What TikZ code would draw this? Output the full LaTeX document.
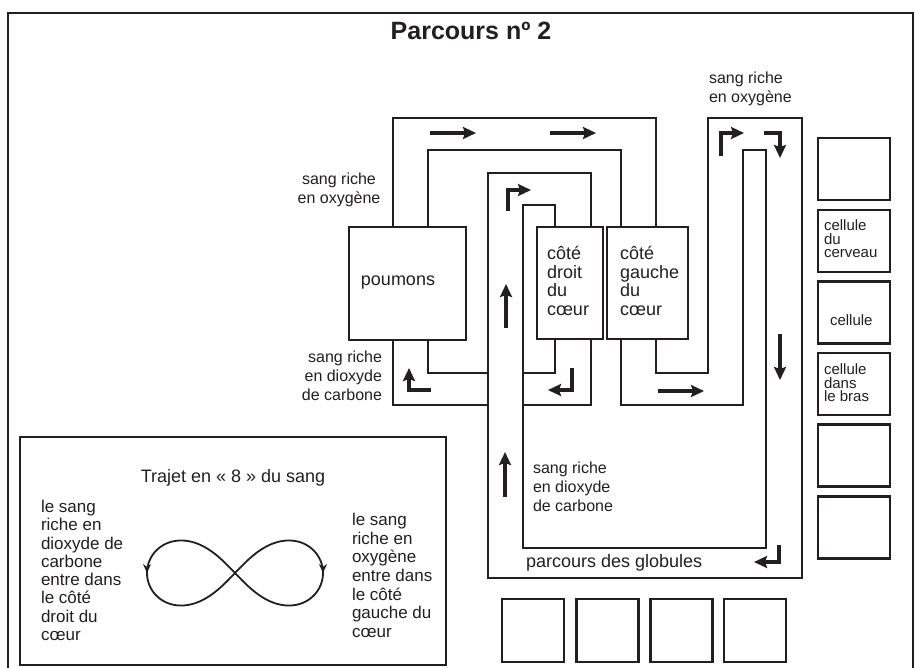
\documentclass[tikz,border=0pt]{standalone}
\usepackage{fontspec}
\setmainfont{Liberation Sans}
\usetikzlibrary{arrows.meta,decorations.markings}
\definecolor{ink}{HTML}{231F20}
\newcommand\myfs[2]{\fontsize{#1}{#2}\selectfont\lineskiplimit=-50pt\relax}
\begin{document}
\begin{tikzpicture}[x=1pt,y=-1pt,
  every node/.style={inner sep=0pt,outer sep=0pt,text=ink},
  lbl/.style={font=\myfs{16}{18.8}},
  heart/.style={font=\myfs{18}{18.5},align=left,anchor=west},
  celltxt/.style={font=\myfs{15}{13.5},align=left,anchor=west},
  route/.style={draw=ink,line width=1.3pt},
  bigbox/.style={draw=ink,line width=2pt,rectangle},
  cellbox/.style={draw=ink,line width=2.4pt,rectangle,minimum width=72pt,minimum height=62pt},
  sqbox/.style={draw=ink,line width=2.4pt,rectangle,minimum width=62pt,minimum height=63pt},
  flow/.style={draw=ink,line width=3.2pt,-{Stealth[length=13pt,width=12pt,inset=2pt]}},
]
\useasboundingbox (0,0) rectangle (915,667);
\fill[white] (0,0) rectangle (915,667);

% outer frame
\draw[ink,line width=2.2pt] (8,672) -- (8,13) -- (913,13) -- (913,672);

% title
\node[font=\bfseries\myfs{25}{28}] (title) at (471,31) {Parcours nº 2};

% main boxes
\node[bigbox,minimum width=117pt,minimum height=113pt] (poumons) at (407.5,283.5) {};
\node[bigbox,minimum width=66pt,minimum height=112pt] (droit) at (570,283) {};
\node[bigbox,minimum width=81pt,minimum height=112pt] (gauche) at (647.5,283) {};

% box texts
\node[font=\myfs{18}{20}] (tpoum) at (398,283) {poumons};
\node[heart] (tdroit) at (547,281) {côté\\droit\\du\\cœur};
\node[heart] (tgauche) at (620,281) {côté\\gauche\\du\\cœur};

% lung circuit (top)
\draw[route] (393,0 |- poumons.north) |- (656,118) -- (656,0 |- gauche.north);
\draw[route] (428,0 |- poumons.north) |- (621,150) -- (621,0 |- gauche.north);
% lung circuit (bottom)
\draw[route] (393,0 |- poumons.south) |- (488,405);
\draw[route] (428,0 |- poumons.south) |- (488,373);
\draw[route] (555,0 |- droit.south) |- (523,373);
\draw[route] (591,0 |- droit.south) |- (523,405);
% body circuit
\draw[route] (656,0 |- gauche.south) |- (708,373) |- (802,118) -- (802,578) -| (488,173) -| (591,0 |- droit.north);
\draw[route] (621,0 |- gauche.south) |- (743,405) |- (766,150) -- (766,548) -| (523,205) -| (555,0 |- droit.north);

% flow arrows
\draw[flow] (430,133) -- (476,133);
\draw[flow] (550,133) -- (596,133);
\draw[flow] (508,211) |- (531,190);
\draw[flow] (431,390) -| (409,368);
\draw[flow] (572,368) |- (548,390);
\draw[flow] (506,328) -- (506,284);
\draw[flow] (505,497) -- (505,452);
\draw[flow] (721,156) |- (744,133);
\draw[flow] (764,133) -| (780,158);
\draw[flow] (780,334) -- (780,380);
\draw[flow] (658,391) -- (704,391);
\draw[flow] (779,545) |- (754,562);

% labels
\node[lbl,align=center] (oxy1) at (339,189.5) {sang riche\\en oxygène};
\node[lbl,align=right,anchor=east] (co2a) at (382,376) {sang riche\\en dioxyde\\de carbone};
\node[lbl,align=left,anchor=west] (oxy2) at (709,88.5) {sang riche\\en oxygène};
\node[lbl,align=left,anchor=west] (co2b) at (533,487) {sang riche\\en dioxyde\\de carbone};
\node[font=\myfs{18}{20},anchor=west] (glob) at (526,563) {parcours des globules};

% cells on the right
\node[cellbox] (c1) at (854,169) {};
\node[cellbox] (c2) at (854,241) {};
\node[cellbox] (c3) at (854,312.5) {};
\node[cellbox] (c4) at (854,384) {};
\node[cellbox] (c5) at (854,455.5) {};
\node[cellbox] (c6) at (854,527.5) {};
\node[celltxt] (tc2) at (824,239) {cellule\\du\\cerveau};
\node[celltxt] (tc3) at (830,320) {cellule};
\node[celltxt] (tc4) at (824,383) {cellule\\dans\\le bras};

% squares at the bottom
\node[sqbox] (s1) at (533,630.5) {};
\node[sqbox] (s2) at (607.5,630.5) {};
\node[sqbox] (s3) at (681.5,630.5) {};
\node[sqbox] (s4) at (755,630.5) {};

% figure-8 box
\draw[ink,line width=2pt] (20,437) rectangle (446,665);
\node[font=\myfs{18}{20}] (traj) at (233,478) {Trajet en «~8~» du sang};
\node[font=\myfs{17}{18.3},align=left,anchor=west] (lefttxt) at (41,570.4)
  {le sang\\riche en\\dioxyde de\\carbone\\entre dans\\le côté\\droit du\\cœur};
\node[font=\myfs{17}{18.7},align=left,anchor=west] (righttxt) at (352,575.4)
  {le sang\\riche en\\oxygène\\entre dans\\le côté\\gauche du\\cœur};
\draw[ink,line width=1.8pt,
  decoration={markings,
    mark=at position 0.25 with {\arrow{Stealth[length=9pt,width=8pt]}},
    mark=at position 0.75 with {\arrow{Stealth[length=9pt,width=8pt]}}},
  postaction={decorate}]
  plot[domain=-90:270,samples=181,smooth,variable=\t]
  ({235+88*cos(\t)/(1+sin(\t)*sin(\t))},{573+92*sin(\t)*cos(\t)/(1+sin(\t)*sin(\t))});
\end{tikzpicture}
\end{document}
